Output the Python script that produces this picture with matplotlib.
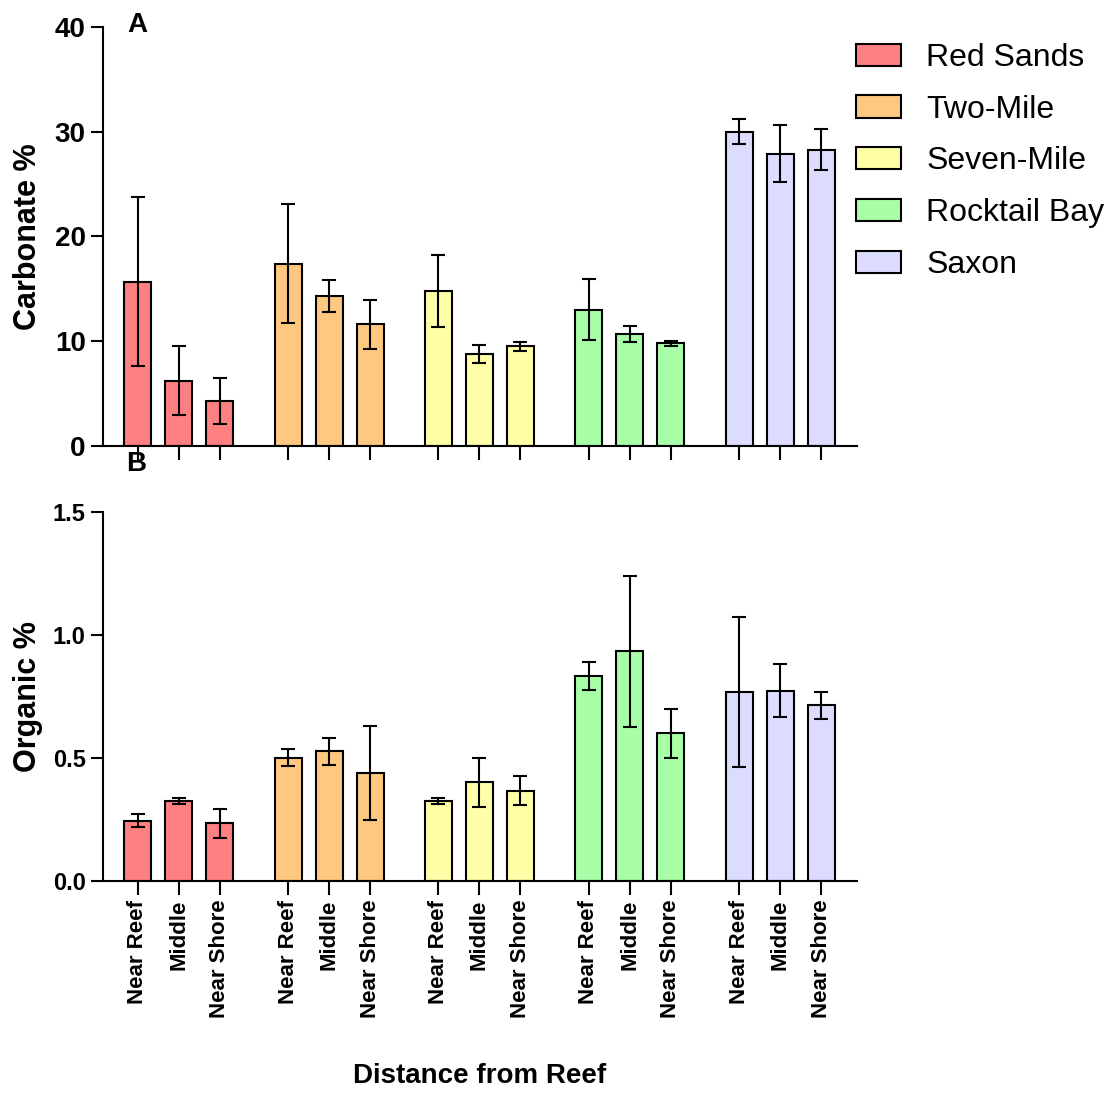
import matplotlib
matplotlib.use("Agg")
import matplotlib.pyplot as plt
import numpy as np

plt.rcParams['font.family'] = ['Liberation Sans', 'DejaVu Sans']

# sites and positions along the transect
sites = ['Red Sands', 'Two-Mile', 'Seven-Mile', 'Rocktail Bay', 'Saxon']
positions = ['Near Reef', 'Middle', 'Near Shore']
colors = ['#ff8080', '#ffc880', '#ffffa8', '#a8ffa8', '#dcdcff']

# carbonate % (mean, error) per site: near reef, middle, near shore
carb_mean = [[15.7, 6.25, 4.3],
             [17.4, 14.3, 11.6],
             [14.8, 8.8, 9.5],
             [13.0, 10.7, 9.8],
             [30.0, 27.9, 28.3]]
carb_err = [[8.1, 3.3, 2.2],
            [5.7, 1.5, 2.35],
            [3.45, 0.85, 0.4],
            [2.9, 0.73, 0.25],
            [1.2, 2.7, 1.95]]

# organic % (mean, error)
org_mean = [[0.245, 0.324, 0.234],
            [0.501, 0.527, 0.440],
            [0.324, 0.401, 0.367],
            [0.833, 0.934, 0.600],
            [0.770, 0.774, 0.714]]
org_err = [[0.026, 0.013, 0.058],
           [0.035, 0.056, 0.19],
           [0.013, 0.10, 0.058],
           [0.058, 0.306, 0.10],
           [0.305, 0.109, 0.054]]

group_step = 3.666
bar_w = 0.66

fig = plt.figure(figsize=(11.15, 10.93), dpi=100)
W, H = 1115.0, 1093.0
ax1 = fig.add_axes([103 / W, 1 - 446 / H, 754 / W, 419 / H])
ax2 = fig.add_axes([103 / W, 1 - 881 / H, 754 / W, 369 / H])

all_x = []
for ax, means, errs in [(ax1, carb_mean, carb_err), (ax2, org_mean, org_err)]:
    for g, site in enumerate(sites):
        x = g * group_step + np.arange(3)
        if ax is ax1:
            all_x.extend(x)
        ax.bar(x, means[g], width=bar_w, color=colors[g], edgecolor='black',
               linewidth=1.5, label=site, zorder=2)
        ax.errorbar(x, means[g], yerr=errs[g], fmt='none', ecolor='black',
                    elinewidth=1.5, capsize=5, capthick=1.5, zorder=3)
    for s in ['top', 'right']:
        ax.spines[s].set_visible(False)
    for s in ['left', 'bottom']:
        ax.spines[s].set_linewidth(1.5)
    ax.set_xlim(-0.85, 17.54)
    ax.set_xticks(all_x)
    ax.tick_params(axis='x', length=10, width=1.5)
    ax.tick_params(axis='y', length=9, width=1.5)

ax1.set_ylim(0, 40)
ax1.set_yticks([0, 10, 20, 30, 40])
ax1.set_xticklabels([])
for lab in ax1.get_yticklabels():
    lab.set_fontsize(20)
    lab.set_fontweight('bold')
ax1.set_ylabel('Carbonate %', fontsize=22, fontweight='bold')
ax1.yaxis.set_label_coords(-0.08, 0.5)

ax2.set_ylim(0, 1.5)
ax2.set_yticks([0.0, 0.5, 1.0, 1.5])
ax2.set_yticklabels(['0.0', '0.5', '1.0', '1.5'], fontsize=17, fontweight='bold')
ax2.set_xticklabels(positions * len(sites), rotation=90, fontsize=16,
                    fontweight='bold')
ax2.set_ylabel('Organic %', fontsize=22, fontweight='bold')
ax2.yaxis.set_label_coords(-0.08, 0.5)
ax2.set_xlabel('Distance from Reef', fontsize=20, fontweight='bold', labelpad=32)

fig.text(137 / W, 1 - 25 / H, 'A', fontsize=20, fontweight='bold',
         ha='center', va='center')
fig.text(136 / W, 1 - 464 / H, 'B', fontsize=20, fontweight='bold',
         ha='center', va='center')

handles, labels = ax1.get_legend_handles_labels()
fig.legend(handles, labels, loc='upper left', bbox_to_anchor=(856 / W, 1 - 43 / H),
           frameon=False, fontsize=23, handlelength=1.4, handleheight=0.7,
           handletextpad=0.8, labelspacing=0.68, borderpad=0, borderaxespad=0)

fig.savefig('out.png', dpi=100)
